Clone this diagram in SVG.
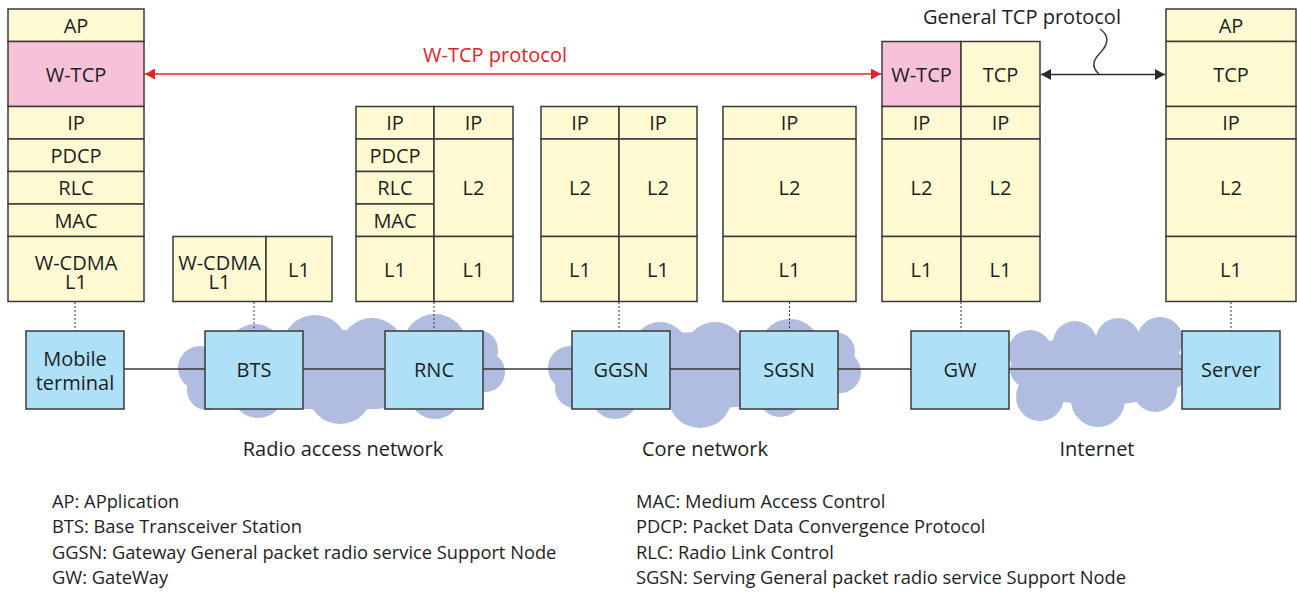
<svg xmlns="http://www.w3.org/2000/svg" width="1297" height="592" viewBox="0 0 1297 592">
<defs>
<style>
.s{fill:#fffad2;stroke:#3a3a3a;stroke-width:1.5}
.p{fill:#f7c1d9;stroke:#3a3a3a;stroke-width:1.5}
.b{fill:#aee0f8;stroke:#3a3a3a;stroke-width:1.5}
.c{fill:#b0bde0}
text{font-family:"Open Sans","Noto Sans","Liberation Sans",sans-serif;font-size:20px;fill:#1e1e1e;text-anchor:middle}
.lg{font-size:18.3px;text-anchor:start}
.red{fill:#e8202a}
.ln{stroke:#3a3a3a;stroke-width:1.5;fill:none}
.dot{stroke:#3a3a3a;stroke-width:1;stroke-dasharray:2 2;fill:none}
</style>
<marker id="ar" viewBox="0 0 10 11" refX="10" refY="5.5" markerWidth="10" markerHeight="11" markerUnits="userSpaceOnUse" orient="auto-start-reverse"><path d="M0,0 L10,5.5 L0,11 z" fill="#e8202a"/></marker>
<marker id="ak" viewBox="0 0 10 11" refX="10" refY="5.5" markerWidth="10" markerHeight="11" markerUnits="userSpaceOnUse" orient="auto-start-reverse"><path d="M0,0 L10,5.5 L0,11 z" fill="#2a2a2a"/></marker>
</defs>
<rect width="1297" height="592" fill="#ffffff"/>

<g id="clouds" class="c">
<g id="cloud-ran">
<circle cx="200" cy="368" r="22"/><circle cx="207" cy="390" r="20"/><circle cx="255" cy="352" r="28"/><circle cx="315" cy="348" r="33"/><circle cx="372" cy="350" r="32"/><circle cx="435" cy="346" r="32"/><circle cx="478" cy="350" r="20"/><circle cx="485" cy="372" r="20"/><circle cx="258" cy="392" r="26"/><circle cx="340" cy="392" r="32"/><circle cx="435" cy="393" r="26"/><circle cx="470" cy="392" r="14"/><ellipse cx="340" cy="370" rx="150" ry="40"/>
</g>
<g id="cloud-core">
<circle cx="570" cy="368" r="22"/><circle cx="575" cy="388" r="20"/><circle cx="660" cy="350" r="28"/><circle cx="715" cy="352" r="30"/><circle cx="790" cy="350" r="31"/><circle cx="835" cy="352" r="20"/><circle cx="840" cy="372" r="21"/><circle cx="615" cy="395" r="24"/><circle cx="700" cy="396" r="32"/><circle cx="780" cy="395" r="22"/><circle cx="825" cy="390" r="14"/><ellipse cx="705" cy="370" rx="140" ry="38"/>
</g>
<g id="cloud-internet">
<circle cx="1030" cy="352" r="22"/><circle cx="1075" cy="343" r="22"/><circle cx="1118" cy="340" r="22"/><circle cx="1160" cy="340" r="23"/><circle cx="1040" cy="397" r="24"/><circle cx="1098" cy="400" r="27"/><circle cx="1155" cy="390" r="22"/><ellipse cx="1100" cy="370" rx="90" ry="35"/>
</g>
</g>

<g id="connectors">
<line class="ln" x1="124" y1="369" x2="205" y2="369"/>
<line class="ln" x1="303" y1="369" x2="385" y2="369"/>
<line class="ln" x1="483" y1="369" x2="572" y2="369"/>
<line class="ln" x1="670" y1="369" x2="740" y2="369"/>
<line class="ln" x1="838" y1="369" x2="911" y2="369"/>
<line class="ln" x1="1009" y1="369" x2="1182" y2="369"/>
<line class="dot" x1="75" y1="302" x2="75" y2="331"/>
<line class="dot" x1="254" y1="302" x2="254" y2="331"/>
<line class="dot" x1="434" y1="302" x2="434" y2="331"/>
<line class="dot" x1="619" y1="302" x2="619" y2="331"/>
<line class="dot" x1="789.5" y1="302" x2="789.5" y2="331"/>
<line class="dot" x1="961" y1="302" x2="961" y2="331"/>
<line class="dot" x1="1231" y1="302" x2="1231" y2="331"/>
<line x1="145" y1="74" x2="881" y2="74" stroke="#e8202a" stroke-width="1.5" marker-start="url(#ar)" marker-end="url(#ar)"/>
<line x1="1041" y1="74.5" x2="1165" y2="74.5" stroke="#2a2a2a" stroke-width="1.5" marker-start="url(#ak)" marker-end="url(#ak)"/>
<path class="ln" d="M1100,29 C1110,36 1108,44 1101,52 C1094,59 1090,66 1099,74"/>
</g>

<g id="labels">
<text class="red" x="495" y="62">W-TCP protocol</text>
<text x="1022" y="24">General TCP protocol</text>
<text x="343" y="456">Radio access network</text>
<text x="705" y="456">Core network</text>
<text x="1097" y="456">Internet</text>
</g>

<g id="stack-mobile">
<rect class="s" x="8" y="9" width="136" height="32.5"/>
<rect class="p" x="8" y="41.5" width="136" height="65"/>
<rect class="s" x="8" y="106.5" width="136" height="32.5"/>
<rect class="s" x="8" y="139" width="136" height="32.5"/>
<rect class="s" x="8" y="171.5" width="136" height="32.5"/>
<rect class="s" x="8" y="204" width="136" height="32.5"/>
<rect class="s" x="8" y="236.5" width="136" height="65"/>
<text x="76" y="32.5">AP</text>
<text x="76" y="81.5">W-TCP</text>
<text x="76" y="130">IP</text>
<text x="76" y="162.5">PDCP</text>
<text x="76" y="195">RLC</text>
<text x="76" y="227.5">MAC</text>
<text x="76" y="269.5">W-CDMA<tspan x="76" dy="19.5">L1</tspan></text>
</g>

<g id="stack-bts">
<rect class="s" x="173" y="236.5" width="93" height="65"/>
<rect class="s" x="266" y="236.5" width="66" height="65"/>
<text x="219.5" y="269.5">W-CDMA<tspan x="219.5" dy="19.5">L1</tspan></text>
<text x="299" y="276.5">L1</text>
</g>

<g id="stack-rnc">
<rect class="s" x="356" y="106.5" width="78" height="32.5"/>
<rect class="s" x="356" y="139" width="78" height="32.5"/>
<rect class="s" x="356" y="171.5" width="78" height="32.5"/>
<rect class="s" x="356" y="204" width="78" height="32.5"/>
<rect class="s" x="356" y="236.5" width="78" height="65"/>
<rect class="s" x="434" y="106.5" width="79" height="32.5"/>
<rect class="s" x="434" y="139" width="79" height="97.5"/>
<rect class="s" x="434" y="236.5" width="79" height="65"/>
<text x="395" y="130">IP</text>
<text x="395" y="162.5">PDCP</text>
<text x="395" y="195">RLC</text>
<text x="395" y="227.5">MAC</text>
<text x="395" y="276.5">L1</text>
<text x="473.5" y="130">IP</text>
<text x="473.5" y="195">L2</text>
<text x="473.5" y="276.5">L1</text>
</g>

<g id="stack-ggsn">
<rect class="s" x="541" y="106.5" width="78" height="32.5"/>
<rect class="s" x="541" y="139" width="78" height="97.5"/>
<rect class="s" x="541" y="236.5" width="78" height="65"/>
<rect class="s" x="619" y="106.5" width="78" height="32.5"/>
<rect class="s" x="619" y="139" width="78" height="97.5"/>
<rect class="s" x="619" y="236.5" width="78" height="65"/>
<text x="580" y="130">IP</text>
<text x="580" y="195">L2</text>
<text x="580" y="276.5">L1</text>
<text x="658" y="130">IP</text>
<text x="658" y="195">L2</text>
<text x="658" y="276.5">L1</text>
</g>

<g id="stack-sgsn">
<rect class="s" x="723" y="106.5" width="133" height="32.5"/>
<rect class="s" x="723" y="139" width="133" height="97.5"/>
<rect class="s" x="723" y="236.5" width="133" height="65"/>
<text x="789.5" y="130">IP</text>
<text x="789.5" y="195">L2</text>
<text x="789.5" y="276.5">L1</text>
</g>

<g id="stack-gw">
<rect class="p" x="882" y="41.5" width="79" height="65"/>
<rect class="s" x="882" y="106.5" width="79" height="32.5"/>
<rect class="s" x="882" y="139" width="79" height="97.5"/>
<rect class="s" x="882" y="236.5" width="79" height="65"/>
<rect class="s" x="961" y="41.5" width="79" height="65"/>
<rect class="s" x="961" y="106.5" width="79" height="32.5"/>
<rect class="s" x="961" y="139" width="79" height="97.5"/>
<rect class="s" x="961" y="236.5" width="79" height="65"/>
<text x="921.5" y="81.5">W-TCP</text>
<text x="921.5" y="130">IP</text>
<text x="921.5" y="195">L2</text>
<text x="921.5" y="276.5">L1</text>
<text x="1000.5" y="81.5">TCP</text>
<text x="1000.5" y="130">IP</text>
<text x="1000.5" y="195">L2</text>
<text x="1000.5" y="276.5">L1</text>
</g>

<g id="stack-server">
<rect class="s" x="1166" y="9" width="130" height="32.5"/>
<rect class="s" x="1166" y="41.5" width="130" height="65"/>
<rect class="s" x="1166" y="106.5" width="130" height="32.5"/>
<rect class="s" x="1166" y="139" width="130" height="97.5"/>
<rect class="s" x="1166" y="236.5" width="130" height="65"/>
<text x="1231" y="32.5">AP</text>
<text x="1231" y="81.5">TCP</text>
<text x="1231" y="130">IP</text>
<text x="1231" y="195">L2</text>
<text x="1231" y="276.5">L1</text>
</g>

<g id="node-mobile"><rect class="b" x="26" y="331" width="98" height="78"/><text x="75" y="366">Mobile<tspan x="75" dy="24">terminal</tspan></text></g>
<g id="node-bts"><rect class="b" x="205" y="331" width="98" height="78"/><text x="254" y="377">BTS</text></g>
<g id="node-rnc"><rect class="b" x="385" y="331" width="98" height="78"/><text x="434" y="377">RNC</text></g>
<g id="node-ggsn"><rect class="b" x="572" y="331" width="98" height="78"/><text x="621" y="377">GGSN</text></g>
<g id="node-sgsn"><rect class="b" x="740" y="331" width="98" height="78"/><text x="789" y="377">SGSN</text></g>
<g id="node-gw"><rect class="b" x="911" y="331" width="98" height="78"/><text x="960" y="377">GW</text></g>
<g id="node-server"><rect class="b" x="1182" y="331" width="98" height="78"/><text x="1231" y="377">Server</text></g>

<g id="legend">
<text class="lg" x="52" y="508">AP: APplication</text>
<text class="lg" x="52" y="533">BTS: Base Transceiver Station</text>
<text class="lg" x="52" y="559">GGSN: Gateway General packet radio service Support Node</text>
<text class="lg" x="52" y="584">GW: GateWay</text>
<text class="lg" x="636" y="508">MAC: Medium Access Control</text>
<text class="lg" x="636" y="533">PDCP: Packet Data Convergence Protocol</text>
<text class="lg" x="636" y="559">RLC: Radio Link Control</text>
<text class="lg" x="636" y="584">SGSN: Serving General packet radio service Support Node</text>
</g>
</svg>
